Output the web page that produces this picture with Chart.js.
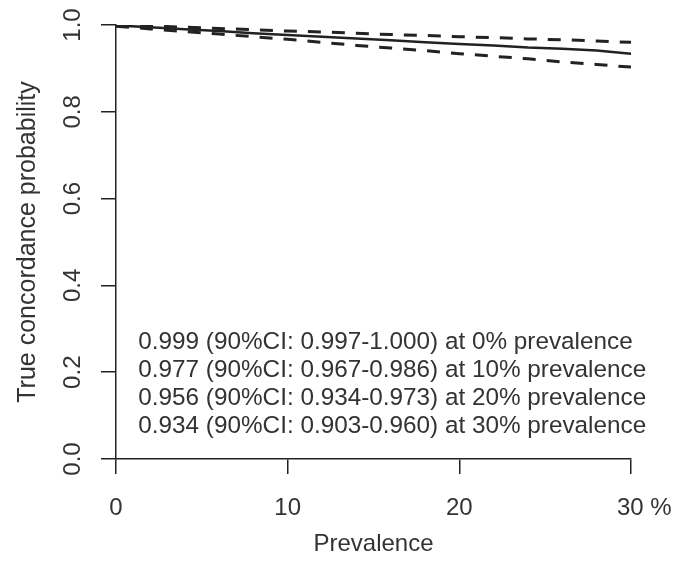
<!DOCTYPE html>
<html>
<head>
<meta charset="utf-8">
<script src="https://cdn.jsdelivr.net/npm/chart.js@4.4.1/dist/chart.umd.min.js"></script>
<style>
  html, body { margin: 0; padding: 0; background: #fff; }
  canvas { display: block; }
</style>
</head>
<body>
<canvas id="chart" width="676" height="563"></canvas>
<script>
// values
const prevalence = [0, 2, 4, 6, 8, 10, 12, 14, 16, 18, 20, 22, 24, 26, 28, 30];
const estimate = [0.999, 0.995, 0.990, 0.986, 0.981, 0.977, 0.973, 0.969, 0.965, 0.960, 0.956, 0.953, 0.948, 0.945, 0.941, 0.934];
const upperCI = [1.000, 0.998, 0.995, 0.992, 0.989, 0.986, 0.984, 0.981, 0.978, 0.976, 0.973, 0.971, 0.968, 0.966, 0.963, 0.960];
const lowerCI = [0.997, 0.991, 0.985, 0.979, 0.973, 0.967, 0.960, 0.953, 0.947, 0.941, 0.934, 0.928, 0.922, 0.915, 0.909, 0.903];

const xTicks = [0, 10, 20, 30];
const xTickLabels = ['0', '10', '20', '30 %'];
const yTicks = [0, 0.2, 0.4, 0.6, 0.8, 1.0];
const yTickLabels = ['0.0', '0.2', '0.4', '0.6', '0.8', '1.0'];

const notes = [
  '0.999 (90%CI: 0.997-1.000) at 0% prevalence',
  '0.977 (90%CI: 0.967-0.986) at 10% prevalence',
  '0.956 (90%CI: 0.934-0.973) at 20% prevalence',
  '0.934 (90%CI: 0.903-0.960) at 30% prevalence'
];
const noteX = 1.3;   // data position of the first line
const noteY = 0.268;

const ink = '#222';
const textColor = '#333';
const fontFamily = '"Liberation Sans", Arial, sans-serif';

const toPoints = (ys) => prevalence.map((x, i) => ({ x: x, y: ys[i] }));

// draws the summary text inside the plot
const notesPlugin = {
  id: 'notes',
  afterDatasetsDraw(chart) {
    const ctx = chart.ctx;
    const x = chart.scales.x.getPixelForValue(noteX);
    const y = chart.scales.y.getPixelForValue(noteY);
    ctx.save();
    ctx.font = '24.3px ' + fontFamily;
    ctx.fillStyle = textColor;
    ctx.textAlign = 'left';
    ctx.textBaseline = 'middle';
    notes.forEach((line, i) => {
      ctx.fillText(line, x, y + i * 27.8);
    });
    ctx.restore();
  }
};

new Chart(document.getElementById('chart'), {
  type: 'line',
  data: {
    datasets: [
      {
        label: 'Estimate',
        data: toPoints(estimate),
        borderColor: ink,
        borderWidth: 2.5,
        pointRadius: 0,
        tension: 0
      },
      {
        label: 'Upper 90% CI',
        data: toPoints(upperCI),
        borderColor: ink,
        borderWidth: 3,
        borderDash: [13, 11],
        pointRadius: 0,
        tension: 0
      },
      {
        label: 'Lower 90% CI',
        data: toPoints(lowerCI),
        borderColor: ink,
        borderWidth: 3,
        borderDash: [13, 11],
        pointRadius: 0,
        tension: 0
      }
    ]
  },
  options: {
    responsive: false,
    animation: false,
    layout: { padding: { top: 25, right: 45, bottom: 0, left: 0 } },
    plugins: {
      legend: { display: false },
      tooltip: { enabled: false }
    },
    scales: {
      x: {
        type: 'linear',
        min: 0,
        max: 30,
        afterBuildTicks: (s) => { s.ticks = xTicks.map(v => ({ value: v })); },
        afterFit: (s) => {
          s.height = 104;
          s.paddingLeft = 0;
          s.paddingRight = 0;
        },
        border: { color: ink, width: 1.5 },
        grid: { drawOnChartArea: false, color: ink, lineWidth: 1.5, tickLength: 15 },
        ticks: {
          padding: 20,
          color: textColor,
          font: { family: fontFamily, size: 24 },
          maxRotation: 0,
          callback: (v, i) => {
            const label = xTickLabels[i];
            // keep the number centred under its tick, unit trails after it
            return label.includes(' %') ? '    ' + label : label;
          }
        },
        title: {
          display: true,
          text: 'Prevalence',
          color: textColor,
          font: { family: fontFamily, size: 24 },
          padding: { top: 0, bottom: 4 }
        }
      },
      y: {
        min: 0,
        max: 1,
        afterBuildTicks: (s) => { s.ticks = yTicks.map(v => ({ value: v })); },
        afterFit: (s) => {
          s.width = 116;
          s.paddingTop = 0;
          s.paddingBottom = 0;
        },
        border: { color: ink, width: 1.5 },
        grid: { drawOnChartArea: false, color: ink, lineWidth: 1.5, tickLength: 15 },
        ticks: {
          padding: 11,
          color: textColor,
          font: { family: fontFamily, size: 24 },
          minRotation: 90,
          maxRotation: 90,
          crossAlign: 'center',
          callback: (v, i) => yTickLabels[i]
        },
        title: {
          display: true,
          text: 'True concordance probability',
          color: textColor,
          font: { family: fontFamily, size: 25 },
          padding: { top: 13, bottom: 0 }
        }
      }
    }
  },
  plugins: [notesPlugin]
});
</script>
</body>
</html>
